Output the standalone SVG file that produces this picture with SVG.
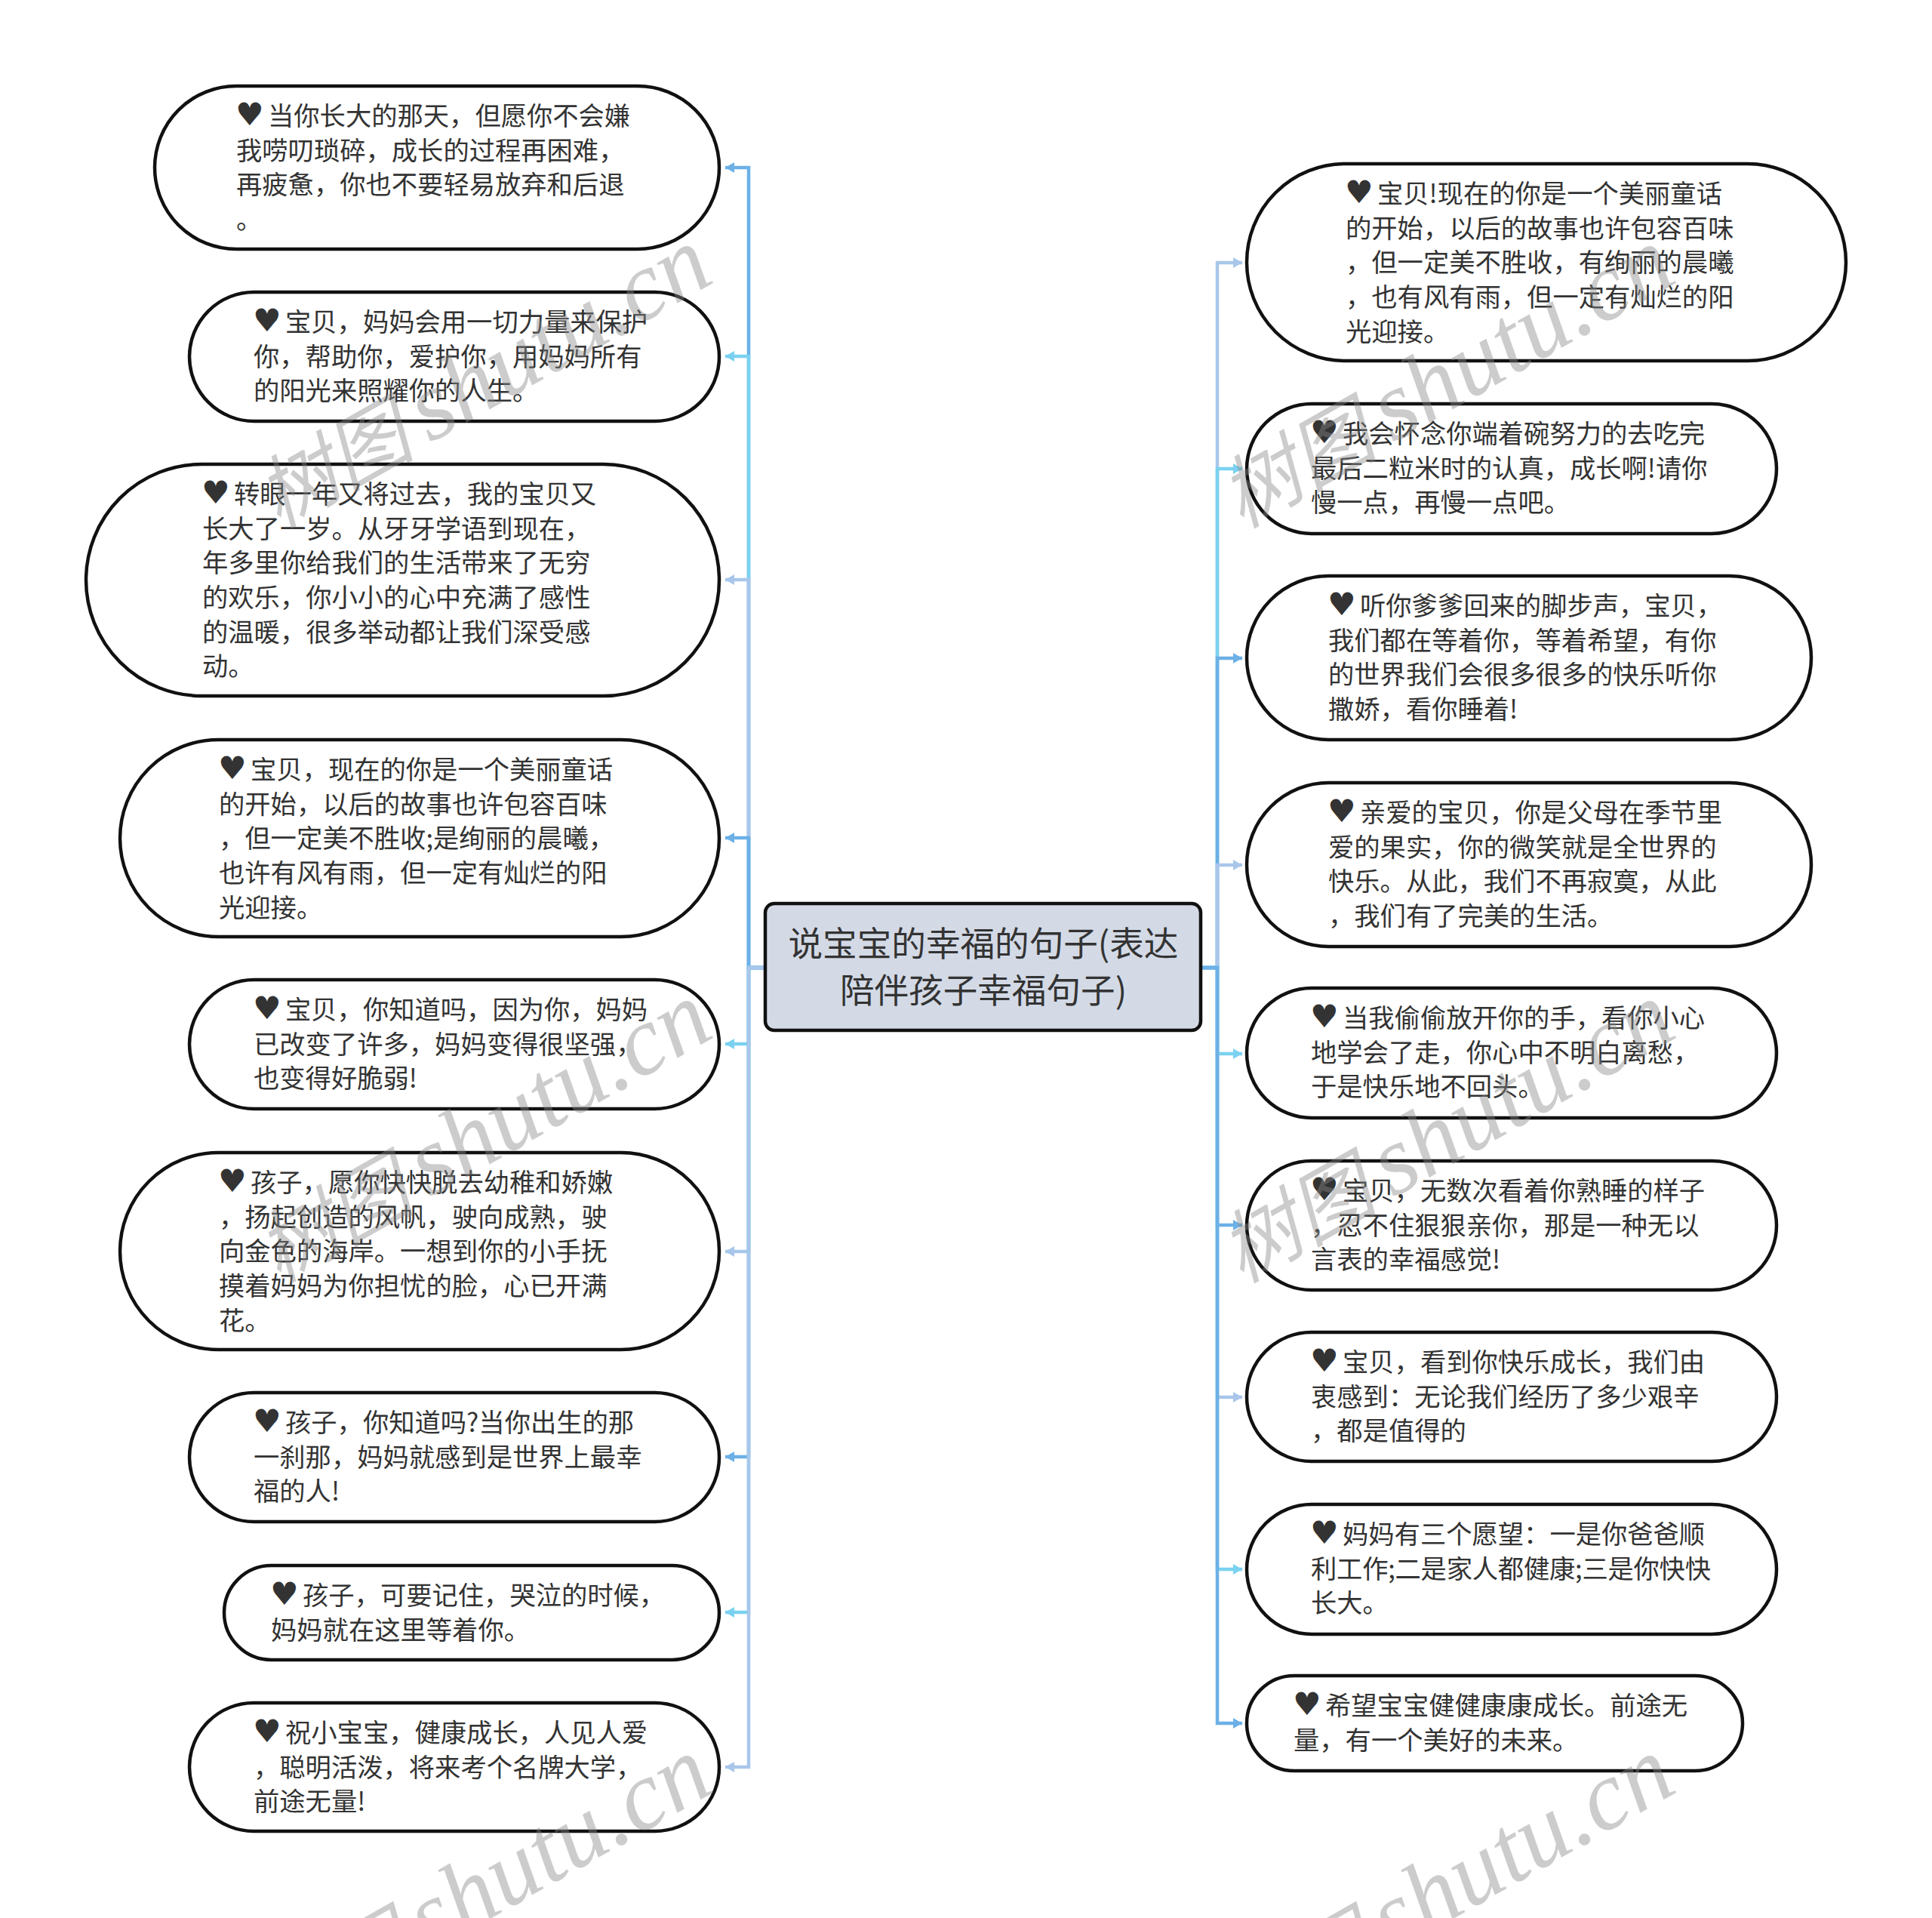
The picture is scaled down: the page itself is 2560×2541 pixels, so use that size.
<svg xmlns="http://www.w3.org/2000/svg" width="2560" height="2541" viewBox="0 0 2560 2541">
<style>
.n{fill:#fff;stroke:#111;stroke-width:4.5}
.t{font-family:"Noto Sans CJK SC","Liberation Sans",sans-serif;font-size:34.3px;fill:#333;transform:translateY(.5px)}
.h{font-family:"DejaVu Sans",sans-serif;font-size:42px;fill:#333}
.c{font-family:"Noto Sans CJK SC","Liberation Sans",sans-serif;font-size:45.6px;fill:#333;text-anchor:middle;transform:translateY(.5px)}
.e{fill:none;stroke-width:4.5}
.b{stroke:#6cb0e6}.y{stroke:#7ad2f0}.p{stroke:#a9c6ea}
.fb{fill:#6cb0e6}.fy{fill:#7ad2f0}.fp{fill:#a9c6ea}
.w{font-family:"Liberation Serif","Noto Sans CJK SC",serif;font-style:italic;font-size:130px;fill:#888;opacity:.42;text-anchor:end;word-spacing:-12px}
.w tspan{font-size:105px}
</style>
<defs>
<marker id="ab" markerUnits="userSpaceOnUse" markerWidth="14" markerHeight="16" refX="12" refY="8" orient="auto"><path d="M0 1L12 8L0 15z" class="fb"/></marker>
<marker id="ay" markerUnits="userSpaceOnUse" markerWidth="14" markerHeight="16" refX="12" refY="8" orient="auto"><path d="M0 1L12 8L0 15z" class="fy"/></marker>
<marker id="ap" markerUnits="userSpaceOnUse" markerWidth="14" markerHeight="16" refX="12" refY="8" orient="auto"><path d="M0 1L12 8L0 15z" class="fp"/></marker>
</defs>
<rect width="2560" height="2541" fill="#fff"/>
<g id="connectors">
<path class="e b" marker-end="url(#ab)" d="M1014 1282H992V222H961"/>
<path class="e y" marker-end="url(#ay)" d="M1014 1282H992V472H961"/>
<path class="e p" marker-end="url(#ap)" d="M1014 1282H992V768H961"/>
<path class="e b" marker-end="url(#ab)" d="M1014 1282H992V1110H961"/>
<path class="e y" marker-end="url(#ay)" d="M1014 1282H992V1383H961"/>
<path class="e p" marker-end="url(#ap)" d="M1014 1282H992V1658H961"/>
<path class="e b" marker-end="url(#ab)" d="M1014 1282H992V1930H961"/>
<path class="e y" marker-end="url(#ay)" d="M1014 1282H992V2136H961"/>
<path class="e p" marker-end="url(#ap)" d="M1014 1282H992V2341H961"/>
<path class="e p" marker-end="url(#ap)" d="M1592 1282H1613V348H1646"/>
<path class="e y" marker-end="url(#ay)" d="M1592 1282H1613V621H1646"/>
<path class="e b" marker-end="url(#ab)" d="M1592 1282H1613V872H1646"/>
<path class="e p" marker-end="url(#ap)" d="M1592 1282H1613V1146H1646"/>
<path class="e y" marker-end="url(#ay)" d="M1592 1282H1613V1396H1646"/>
<path class="e b" marker-end="url(#ab)" d="M1592 1282H1613V1623H1646"/>
<path class="e p" marker-end="url(#ap)" d="M1592 1282H1613V1851H1646"/>
<path class="e y" marker-end="url(#ay)" d="M1592 1282H1613V2079H1646"/>
<path class="e b" marker-end="url(#ab)" d="M1592 1282H1613V2283H1646"/>
</g>
<g id="center"><rect x="1014" y="1197" width="577" height="168" rx="12" fill="#d3dae6" stroke="#111" stroke-width="4.5"/>
<text class="c"><tspan x="1303" y="1266">说宝宝的幸福的句子(表达</tspan><tspan x="1303" y="1328">陪伴孩子幸福句子)</tspan></text></g>
<g id="L1"><rect class="n" x="205" y="114" width="748" height="216" rx="108"/><text class="t"><tspan class="h" x="312" y="165">♥</tspan><tspan x="355" y="165">当你长大的那天，但愿你不会嫌</tspan><tspan x="313" y="211">我唠叨琐碎，成长的过程再困难，</tspan><tspan x="313" y="256">再疲惫，你也不要轻易放弃和后退</tspan><tspan x="313" y="302">。</tspan></text></g>
<g id="L2"><rect class="n" x="251" y="387" width="702" height="171" rx="85.5"/><text class="t"><tspan class="h" x="335" y="438">♥</tspan><tspan x="378" y="438">宝贝，妈妈会用一切力量来保护</tspan><tspan x="336" y="484">你，帮助你，爱护你，用妈妈所有</tspan><tspan x="336" y="529">的阳光来照耀你的人生。</tspan></text></g>
<g id="L3"><rect class="n" x="114" y="615" width="839" height="307" rx="153.5"/><text class="t"><tspan class="h" x="267" y="666">♥</tspan><tspan x="310" y="666">转眼一年又将过去，我的宝贝又</tspan><tspan x="268" y="712">长大了一岁。从牙牙学语到现在，</tspan><tspan x="268" y="757">年多里你给我们的生活带来了无穷</tspan><tspan x="268" y="803">的欢乐，你小小的心中充满了感性</tspan><tspan x="268" y="849">的温暖，很多举动都让我们深受感</tspan><tspan x="268" y="894">动。</tspan></text></g>
<g id="L4"><rect class="n" x="159" y="980" width="794" height="261" rx="130.5"/><text class="t"><tspan class="h" x="289" y="1031">♥</tspan><tspan x="332" y="1031">宝贝，现在的你是一个美丽童话</tspan><tspan x="290" y="1077">的开始，以后的故事也许包容百味</tspan><tspan x="290" y="1122">，但一定美不胜收;是绚丽的晨曦，</tspan><tspan x="290" y="1168">也许有风有雨，但一定有灿烂的阳</tspan><tspan x="290" y="1214">光迎接。</tspan></text></g>
<g id="L5"><rect class="n" x="251" y="1298" width="702" height="171" rx="85.5"/><text class="t"><tspan class="h" x="335" y="1349">♥</tspan><tspan x="378" y="1349">宝贝，你知道吗，因为你，妈妈</tspan><tspan x="336" y="1395">已改变了许多，妈妈变得很坚强，</tspan><tspan x="336" y="1440">也变得好脆弱!</tspan></text></g>
<g id="L6"><rect class="n" x="159" y="1527" width="794" height="261" rx="130.5"/><text class="t"><tspan class="h" x="289" y="1578">♥</tspan><tspan x="332" y="1578">孩子，愿你快快脱去幼稚和娇嫩</tspan><tspan x="290" y="1624">，扬起创造的风帆，驶向成熟，驶</tspan><tspan x="290" y="1669">向金色的海岸。一想到你的小手抚</tspan><tspan x="290" y="1715">摸着妈妈为你担忧的脸，心已开满</tspan><tspan x="290" y="1761">花。</tspan></text></g>
<g id="L7"><rect class="n" x="251" y="1845" width="702" height="171" rx="85.5"/><text class="t"><tspan class="h" x="335" y="1896">♥</tspan><tspan x="378" y="1896">孩子，你知道吗?当你出生的那</tspan><tspan x="336" y="1942">一刹那，妈妈就感到是世界上最幸</tspan><tspan x="336" y="1987">福的人!</tspan></text></g>
<g id="L8"><rect class="n" x="297" y="2074" width="656" height="125" rx="62.5"/><text class="t"><tspan class="h" x="358" y="2125">♥</tspan><tspan x="401" y="2125">孩子，可要记住，哭泣的时候，</tspan><tspan x="359" y="2171">妈妈就在这里等着你。</tspan></text></g>
<g id="L9"><rect class="n" x="251" y="2256" width="702" height="170" rx="85"/><text class="t"><tspan class="h" x="335" y="2307">♥</tspan><tspan x="378" y="2307">祝小宝宝，健康成长，人见人爱</tspan><tspan x="336" y="2353">，聪明活泼，将来考个名牌大学，</tspan><tspan x="336" y="2398">前途无量!</tspan></text></g>
<g id="R1"><rect class="n" x="1652" y="217" width="794" height="261" rx="130.5"/><text class="t"><tspan class="h" x="1782" y="268">♥</tspan><tspan x="1825" y="268">宝贝!现在的你是一个美丽童话</tspan><tspan x="1783" y="314">的开始，以后的故事也许包容百味</tspan><tspan x="1783" y="359">，但一定美不胜收，有绚丽的晨曦</tspan><tspan x="1783" y="405">，也有风有雨，但一定有灿烂的阳</tspan><tspan x="1783" y="451">光迎接。</tspan></text></g>
<g id="R2"><rect class="n" x="1652" y="535" width="702" height="172" rx="86"/><text class="t"><tspan class="h" x="1736" y="586">♥</tspan><tspan x="1779" y="586">我会怀念你端着碗努力的去吃完</tspan><tspan x="1737" y="632">最后二粒米时的认真，成长啊!请你</tspan><tspan x="1737" y="677">慢一点，再慢一点吧。</tspan></text></g>
<g id="R3"><rect class="n" x="1652" y="763" width="748" height="217" rx="108.5"/><text class="t"><tspan class="h" x="1759" y="814">♥</tspan><tspan x="1802" y="814">听你爹爹回来的脚步声，宝贝，</tspan><tspan x="1760" y="860">我们都在等着你，等着希望，有你</tspan><tspan x="1760" y="905">的世界我们会很多很多的快乐听你</tspan><tspan x="1760" y="951">撒娇，看你睡着!</tspan></text></g>
<g id="R4"><rect class="n" x="1652" y="1037" width="748" height="217" rx="108.5"/><text class="t"><tspan class="h" x="1759" y="1088">♥</tspan><tspan x="1802" y="1088">亲爱的宝贝，你是父母在季节里</tspan><tspan x="1760" y="1134">爱的果实，你的微笑就是全世界的</tspan><tspan x="1760" y="1179">快乐。从此，我们不再寂寞，从此</tspan><tspan x="1760" y="1225">，我们有了完美的生活。</tspan></text></g>
<g id="R5"><rect class="n" x="1652" y="1309" width="702" height="172" rx="86"/><text class="t"><tspan class="h" x="1736" y="1360">♥</tspan><tspan x="1779" y="1360">当我偷偷放开你的手，看你小心</tspan><tspan x="1737" y="1406">地学会了走，你心中不明白离愁，</tspan><tspan x="1737" y="1451">于是快乐地不回头。</tspan></text></g>
<g id="R6"><rect class="n" x="1652" y="1538" width="702" height="171" rx="85.5"/><text class="t"><tspan class="h" x="1736" y="1589">♥</tspan><tspan x="1779" y="1589">宝贝，无数次看着你熟睡的样子</tspan><tspan x="1737" y="1635">，忍不住狠狠亲你，那是一种无以</tspan><tspan x="1737" y="1680">言表的幸福感觉!</tspan></text></g>
<g id="R7"><rect class="n" x="1652" y="1765" width="702" height="171" rx="85.5"/><text class="t"><tspan class="h" x="1736" y="1816">♥</tspan><tspan x="1779" y="1816">宝贝，看到你快乐成长，我们由</tspan><tspan x="1737" y="1862">衷感到：无论我们经历了多少艰辛</tspan><tspan x="1737" y="1907">，都是值得的</tspan></text></g>
<g id="R8"><rect class="n" x="1652" y="1993" width="702" height="172" rx="86"/><text class="t"><tspan class="h" x="1736" y="2044">♥</tspan><tspan x="1779" y="2044">妈妈有三个愿望：一是你爸爸顺</tspan><tspan x="1737" y="2090" textLength="530">利工作;二是家人都健康;三是你快快</tspan><tspan x="1737" y="2135">长大。</tspan></text></g>
<g id="R9"><rect class="n" x="1652" y="2220" width="657" height="126" rx="63"/><text class="t"><tspan class="h" x="1713" y="2271">♥</tspan><tspan x="1756" y="2271">希望宝宝健健康康成长。前途无</tspan><tspan x="1714" y="2317">量，有一个美好的未来。</tspan></text></g>
<g id="watermarks">
<text class="w" transform="translate(950 372) rotate(-29.5)"><tspan>树图</tspan> shutu.cn</text>
<text class="w" transform="translate(950 1372) rotate(-29.5)"><tspan>树图</tspan> shutu.cn</text>
<text class="w" transform="translate(950 2372) rotate(-29.5)"><tspan>树图</tspan> shutu.cn</text>
<text class="w" transform="translate(2226 372) rotate(-29.5)"><tspan>树图</tspan> shutu.cn</text>
<text class="w" transform="translate(2226 1372) rotate(-29.5)"><tspan>树图</tspan> shutu.cn</text>
<text class="w" transform="translate(2226 2372) rotate(-29.5)"><tspan>树图</tspan> shutu.cn</text>
</g>
</svg>
